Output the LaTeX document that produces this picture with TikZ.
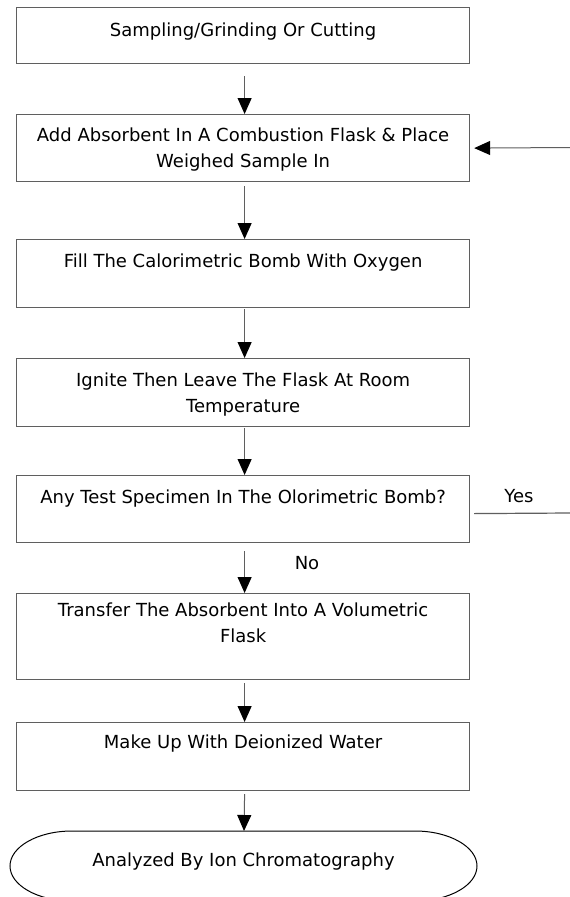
\documentclass[tikz,border=0pt]{standalone}
\usepackage{fontspec}
\setmainfont{DejaVu Sans}
\usetikzlibrary{arrows.meta}
\definecolor{edge}{HTML}{5F5F5F}
\tikzset{
  stepbox/.style={draw=edge, line width=1.2pt, inner sep=0pt, anchor=north west},
  flow/.style={draw=edge, line width=1pt, -{Triangle[width=14pt,length=16pt,color=black,fill=black]}},
  plain/.style={draw=edge, line width=1.2pt},
  lbl/.style={inner sep=0pt, font=\fontsize{18}{22}\selectfont},
}
\newcommand\bxt[3]{\parbox[c][#1][t]{453pt}{\centering\fontsize{18}{25.5}\selectfont\rule{0pt}{#2}#3}}
\begin{document}
\begin{tikzpicture}[x=1pt,y=-1pt]
\fill[white] (0,0) rectangle (570,897);
\useasboundingbox (0,0) rectangle (570,897);

\node[stepbox] (b1) at (16,7)   {\bxt{56pt}{29pt}{Sampling/Grinding Or Cutting}};
\node[stepbox] (b2) at (16,114) {\bxt{67pt}{27pt}{Add Absorbent In A Combustion Flask \& Place\\Weighed Sample In}};
\node[stepbox] (b3) at (16,239) {\bxt{68pt}{28pt}{Fill The Calorimetric Bomb With Oxygen}};
\node[stepbox] (b4) at (16,358) {\bxt{68pt}{28pt}{Ignite Then Leave The Flask At Room\\Temperature}};
\node[stepbox] (b5) at (16,475) {\bxt{67pt}{28pt}{Any Test Specimen In The Olorimetric Bomb?}};
\node[stepbox] (b6) at (16,593) {\bxt{86pt}{23pt}{Transfer The Absorbent Into A Volumetric\\Flask}};
\node[stepbox] (b7) at (16,722) {\bxt{68pt}{26pt}{Make Up With Deionized Water}};

\node[inner sep=0pt, anchor=north] (e) at (243.5,831)
  {\parbox[c][70pt][t]{467pt}{\centering\fontsize{18}{25.5}\selectfont\rule{0pt}{35pt}Analyzed By Ion Chromatography}};
\draw[black, line width=1pt] (72,831) -- (415,831)
  .. controls (449.2,831) and (477,846.7) .. (477,866)
  .. controls (477,885.3) and (449.2,901) .. (415,901) -- (72,901)
  .. controls (37.8,901) and (10,885.3) .. (10,866)
  .. controls (10,846.7) and (37.8,831) .. (72,831) -- cycle;

\draw[flow] ([xshift=1.5pt,yshift=-12pt]b1.south) -- ([xshift=1.5pt]b2.north);
\draw[flow] ([xshift=1.5pt,yshift=-4pt]b2.south) -- ([xshift=1.5pt]b3.north);
\draw[flow] ([xshift=1.5pt,yshift=-1pt]b3.south) -- ([xshift=1.5pt]b4.north);
\draw[flow] ([xshift=1.5pt,yshift=-1pt]b4.south) -- ([xshift=1.5pt]b5.north);
\draw[flow] ([xshift=1.5pt,yshift=-8pt]b5.south) -- ([xshift=1.5pt]b6.north);
\draw[flow] ([xshift=1.5pt,yshift=-3pt]b6.south) -- ([xshift=1.5pt]b7.north);
\draw[flow] ([xshift=1.5pt,yshift=-3pt]b7.south) -- ([xshift=0.5pt]e.north);

\coordinate (r1) at (570,147.5);
\draw[flow] (r1) -- ([xshift=4pt]b2.east);
\coordinate (r2) at (570,513);
\draw[plain] ([xshift=4pt,yshift=-4.5pt]b5.east) -- (r2);

\node[lbl] (yes) at (519,496) {Yes};
\node[lbl] (no) at (307,563) {No};
\end{tikzpicture}
\end{document}
